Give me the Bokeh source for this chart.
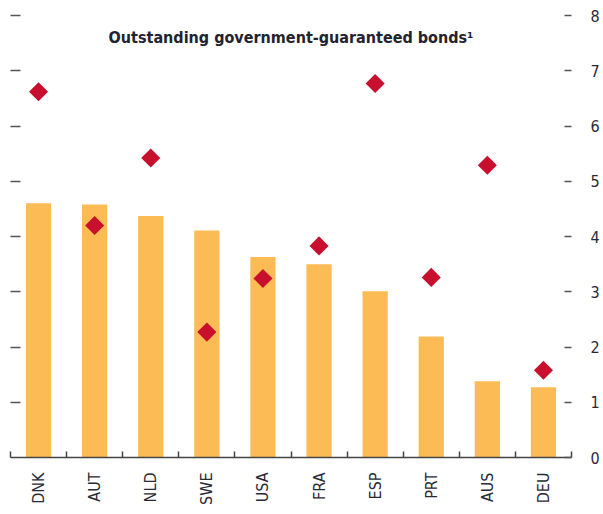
import math
from bokeh.plotting import figure
from bokeh.models import Range1d, LinearAxis, FixedTicker, Label, ColumnDataSource
from bokeh.embed import file_html
from bokeh.resources import INLINE

# ---- data ----
categories = ["DNK", "AUT", "NLD", "SWE", "USA", "FRA", "ESP", "PRT", "AUS", "DEU"]
bar_values = [4.60, 4.58, 4.37, 4.11, 3.63, 3.50, 3.01, 2.19, 1.38, 1.27]
diamond_values = [6.62, 4.20, 5.42, 2.27, 3.24, 3.83, 6.77, 3.26, 5.29, 1.58]
y_ticks = [0, 1, 2, 3, 4, 5, 6, 7, 8]
title_text = "Outstanding government-guaranteed bonds\u00b9"

FONT = "DejaVu Sans Condensed"

xpos = [i + 0.5 for i in range(len(categories))]
src = ColumnDataSource(dict(x=xpos, cat=categories, bar=bar_values, dia=diamond_values))

p = figure(width=603, height=514, output_backend="svg", toolbar_location=None,
           x_range=Range1d(0, len(categories)), y_range=Range1d(0, 8),
           y_axis_location="right",
           min_border_left=10, min_border_right=32, min_border_top=15, min_border_bottom=57)
p.outline_line_color = None
p.grid.visible = False
p.background_fill_color = "white"
p.border_fill_color = "white"

p.vbar(x="x", top="bar", width=0.45, source=src, color="#FDBB55", line_color=None)
p.scatter(x="x", y="dia", source=src, marker="square", angle=math.pi / 4, size=13.5,
          color="#C8102E", line_color=None)

# bottom axis
xa = p.xaxis[0]
xa.ticker = FixedTicker(ticks=xpos, minor_ticks=list(range(len(categories) + 1)))
xa.major_label_overrides = {x: c for x, c in zip(xpos, categories)}
xa.major_label_orientation = math.pi / 2
xa.major_tick_in = 0
xa.major_tick_out = 0
xa.minor_tick_in = 6
xa.minor_tick_out = 0
xa.minor_tick_line_color = "#444444"
xa.minor_tick_line_width = 1.5
xa.axis_line_color = "#444444"
xa.axis_line_width = 1.5
xa.major_label_standoff = 15
xa.major_label_text_font = FONT
xa.major_label_text_font_size = "16px"
xa.major_label_text_color = "#2a2a35"

# right axis
ya = p.yaxis[0]
ya.ticker = FixedTicker(ticks=y_ticks)
ya.axis_line_color = None
ya.major_tick_in = 7
ya.major_tick_out = 0
ya.minor_tick_line_color = None
ya.major_tick_line_color = "#555555"
ya.major_tick_line_width = 1.5
ya.major_label_standoff = 19
ya.major_label_text_font = FONT
ya.major_label_text_font_size = "16px"
ya.major_label_text_color = "#2a2a35"

# left axis (ticks only)
la = LinearAxis(ticker=FixedTicker(ticks=y_ticks[1:]))
la.axis_line_color = None
la.major_tick_in = 10
la.major_tick_out = 0
la.minor_tick_line_color = None
la.major_tick_line_color = "#555555"
la.major_tick_line_width = 1.5
la.major_label_overrides = {t: "" for t in y_ticks[1:]}
la.major_label_standoff = 0
p.add_layout(la, "left")

title = Label(x=len(categories) / 2, y=7.6, text=title_text, text_align="center",
              text_baseline="middle", text_font=FONT, text_font_size="16px",
              text_font_style="bold", text_color="#23232f")
p.add_layout(title)

open("out.html", "w").write(file_html(p, INLINE))
